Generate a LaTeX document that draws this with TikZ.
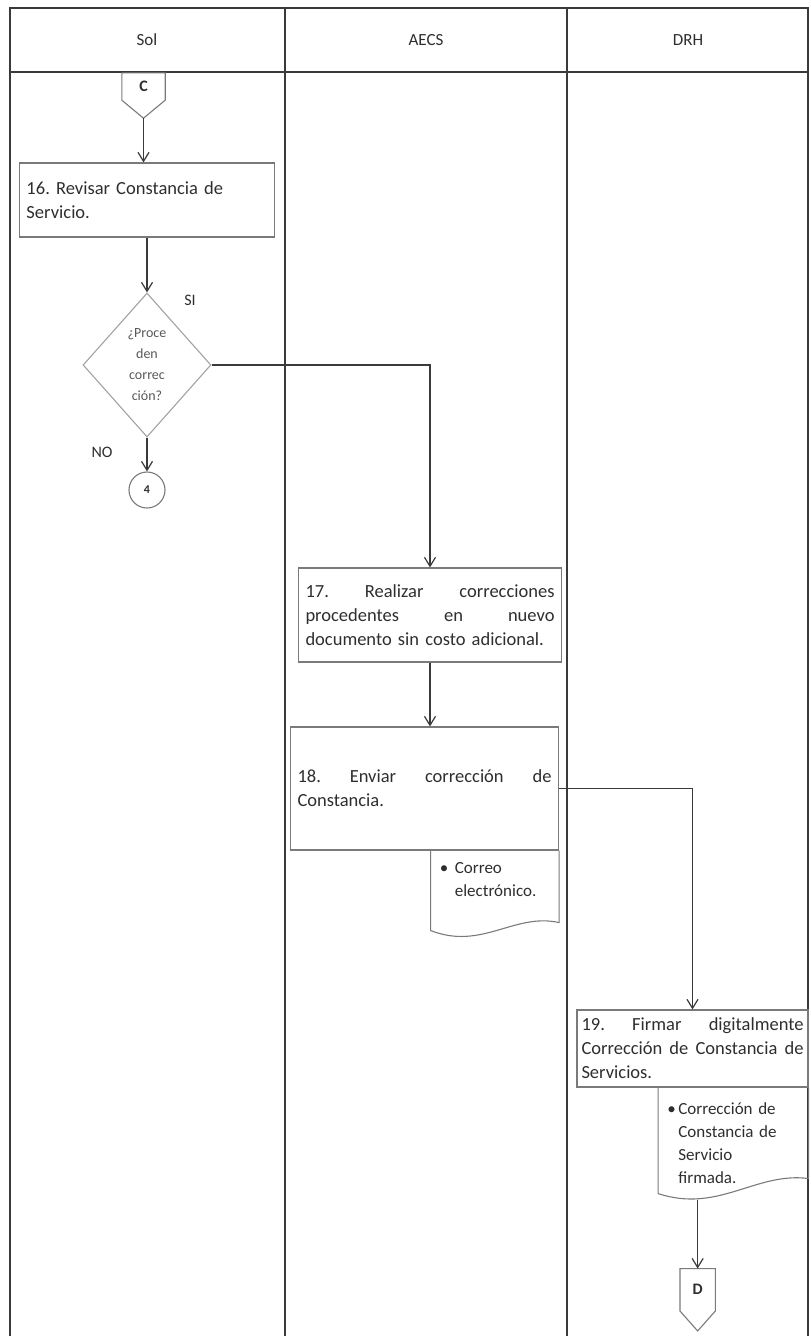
\documentclass[tikz,border=0pt]{standalone}
\usepackage{fontspec}
\setmainfont{Carlito}
\usetikzlibrary{shapes.geometric, arrows.meta, positioning, calc}
\usepackage{xcolor}
\definecolor{lanegray}{HTML}{3A3A3A}
\definecolor{boxgray}{HTML}{7A7A7A}
\definecolor{textgray}{HTML}{2E2E2E}
\newcommand{\fullline}[1]{\leavevmode\hbox to \hsize{#1}}
\frenchspacing

\begin{document}
\begin{tikzpicture}[
    x=1pt, y=-1pt,
    lane/.style={draw=lanegray, line width=1.8pt},
    outline/.style={draw=boxgray, line width=1.1pt},
    header/.style={font=\fontsize{17}{20}\selectfont, text=textgray},
    process/.style={rectangle, outline, inner xsep=7pt, inner ysep=3pt, align=left, text=textgray, font=\fontsize{18.5}{24}\selectfont},
    decision/.style={diamond, draw=boxgray!70, line width=1.1pt, aspect=0.89, minimum width=128pt, minimum height=144pt, inner sep=0pt, align=center, text=textgray!80, font=\fontsize{14}{21}\selectfont},
    docnote/.style={rectangle, inner xsep=9pt, inner ysep=12pt, align=left, text=textgray, font=\fontsize{17}{23}\selectfont},
    offpage/.style={rectangle, inner sep=0pt, font=\bfseries\fontsize{16}{19}\selectfont, text=textgray},
    connector/.style={circle, outline, minimum size=36pt, inner sep=0pt, font=\bfseries\fontsize{12}{14}\selectfont, text=textgray},
    answer/.style={font=\fontsize{16}{19}\selectfont, text=textgray},
    line/.style={draw=lanegray, line width=1.2pt, -{Straight Barb[length=9pt, width=11pt]}}
]
\useasboundingbox (0,0) rectangle (811,1336);

% Lanes
\draw[lane] (10,1336) -- (10,8) -- (808,8) -- (808,1336);
\draw[lane] (10,72) -- (808,72);
\draw[lane] (285,8) -- (285,1336);
\draw[lane] (567,8) -- (567,1336);
\node[header] (sol) at (147,40) {Sol};
\node[header] (aecs) at (426,40) {AECS};
\node[header] (drh) at (688,40) {DRH};

% Nodes
\node[offpage, minimum width=43pt, minimum height=27pt] (offC) at (143.5,86.5) {C};
\coordinate (offCtip) at ($(offC.south)+(0,18)$);
\draw[outline] (offC.north west) -- (offC.south west) -- (offCtip) -- (offC.south east) -- (offC.north east) -- cycle;

\node[process, text width=241pt, minimum height=74pt] (box16) at (147,200) {16. Revisar Constancia de\\Servicio.};
\node[decision] (dec) at (147,365) {¿Proce\\den\\correc\\ción?};
\node[answer] (si) at (190,300) {SI};
\node[answer] (no) at (102,452) {NO};
\node[connector] (conn4) at (147,490) {4};

\node[process, text width=249pt, minimum height=94pt] (box17) at (430,615)
    {\fullline{17.\hfill Realizar\hfill correcciones}\\\fullline{procedentes\hfill en\hfill nuevo}\\documento sin costo adicional.};
\node[process, text width=254pt, minimum height=123pt] (box18) at (424.5,788.5)
    {\fullline{18.\hfill Enviar\hfill corrección\hfill de}\\Constancia.};
\node[docnote, text width=110pt, anchor=north east] (doc18) at (box18.south east)
    {\makebox[15pt][l]{\textbullet}Correo\\\hspace*{15pt}electrónico.};
\draw[outline] (doc18.north west) -- ($(doc18.north west)+(0,80)$)
    .. controls ($(doc18.north west)!0.4!(doc18.north east)+(0,100)$) and ($(doc18.north west)!0.65!(doc18.north east)+(0,62)$)
    .. ($(doc18.north east)+(0,72)$) -- (doc18.north east);

\node[process, inner xsep=4.5pt, text width=222pt, minimum height=77pt] (box19) at (692.5,1048.5)
    {\fullline{19.\hfill Firmar\hfill digitalmente}\\\fullline{Corrección\hfill de\hfill Constancia\hfill de}\\Servicios.};
\node[docnote, inner ysep=15pt, text width=132pt, anchor=north east] (doc19) at (box19.south east)
    {\makebox[11pt][l]{\textbullet}Corrección de\\\hspace*{11pt}Constancia de\\\hspace*{11pt}Servicio\\\hspace*{11pt}firmada.};
\draw[outline] (doc19.north west) -- ($(doc19.north west)+(0,106)$)
    .. controls ($(doc19.north west)!0.4!(doc19.north east)+(0,126)$) and ($(doc19.north west)!0.65!(doc19.north east)+(0,84)$)
    .. ($(doc19.north east)+(0,91)$) -- (doc19.north east);
\coordinate (doc19foot) at ($(doc19.north west)+(39.5,112)$);

\node[offpage, minimum width=35pt, minimum height=42pt, below=69pt of doc19foot] (offD) {D};
\coordinate (offDtip) at ($(offD.south)+(0,20)$);
\draw[outline] (offD.north west) -- (offD.south west) -- (offDtip) -- (offD.south east) -- (offD.north east) -- cycle;

% Connections
\draw[line] (offCtip) -- (offCtip |- box16.north);
\draw[line] (box16.south) -- (dec.north);
\draw[line] (dec.south) -- (conn4.north);
\draw[line] (dec.east) -| (box17.north);
\draw[line] (box17.south) -- (box17.south |- box18.north);
\draw[line] (box18.east) -| (box19.north);
\draw[line] (doc19foot) -- (offD.north);

\end{tikzpicture}
\end{document}
